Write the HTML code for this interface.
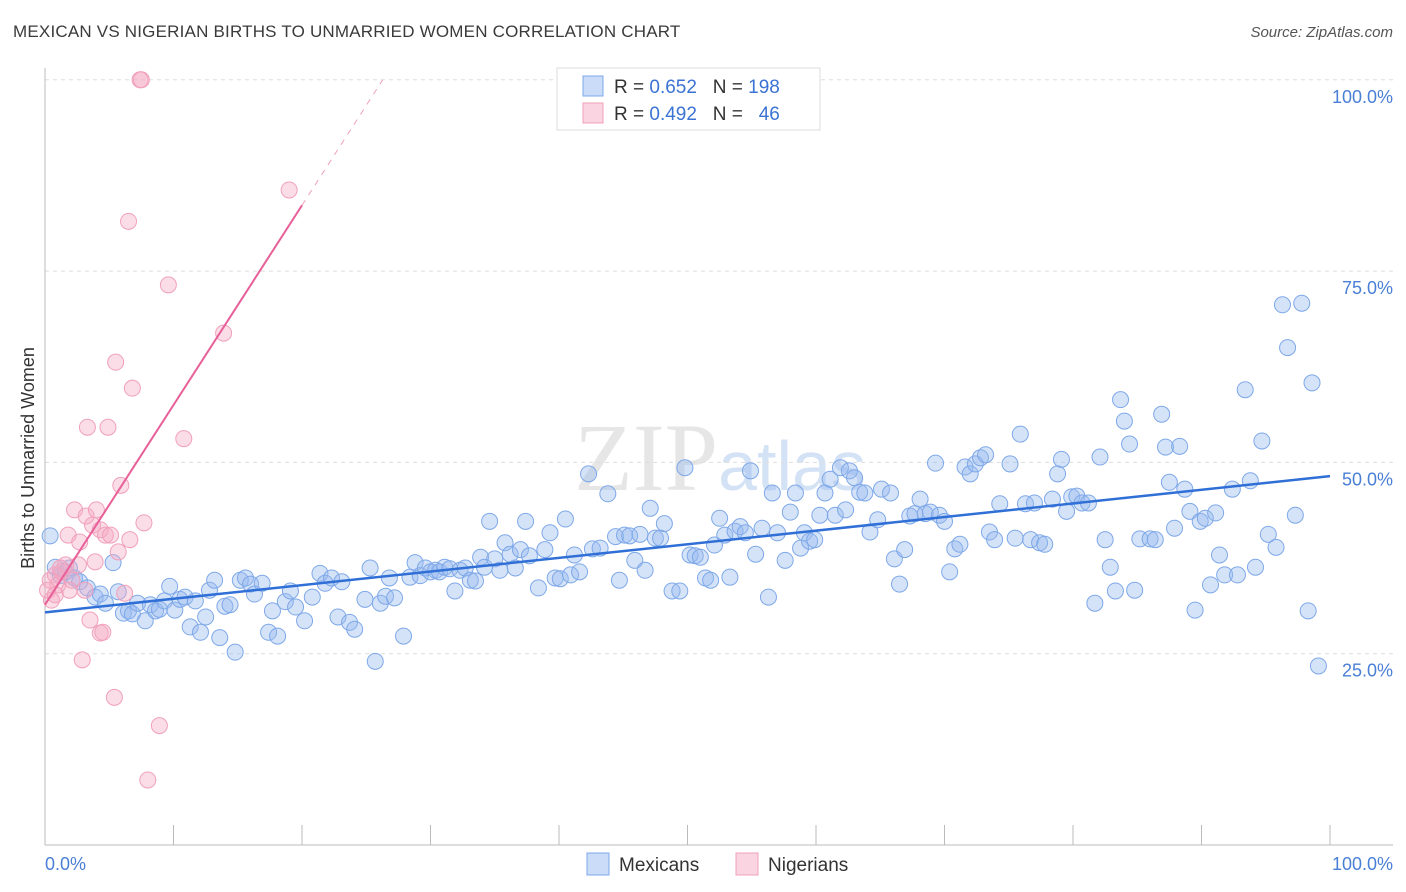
<!DOCTYPE html>
<html><head><meta charset="utf-8">
<style>
body{margin:0;background:#fff;font-family:"Liberation Sans",sans-serif;}
#wrap{position:relative;width:1406px;height:892px;overflow:hidden;}
.title{position:absolute;left:13px;top:22px;font-size:17px;color:#3a3a3a;letter-spacing:0.2px}
.src{position:absolute;right:13px;top:24px;font-size:15px;color:#555;font-style:italic}
</style></head>
<body>
<div id="wrap">
<div class="title">MEXICAN VS NIGERIAN BIRTHS TO UNMARRIED WOMEN CORRELATION CHART</div>
<div class="src">Source: ZipAtlas.com</div>
<svg id="chart" width="1406" height="892" style="position:absolute;left:0;top:0">
<text x="720" y="490" text-anchor="middle" font-size="96" font-family="Liberation Serif" fill="#e6e6e6">ZIP<tspan fill="#d4e2f5" font-family="Liberation Sans" font-size="70">atlas</tspan></text>
</svg>
</div>
<script>
const mexX=[0.4,0.8,1.2,1.6,1.9,2.3,2.7,3.3,3.9,4.3,4.7,5.3,5.7,6.1,6.5,6.8,7.2,7.8,8.2,8.6,8.9,9.3,9.7,10.1,10.5,10.9,11.3,11.7,12.1,12.5,12.8,13.2,13.6,14.0,14.4,14.8,15.2,15.6,16.0,16.3,16.9,17.4,17.7,18.1,18.7,19.1,19.5,20.2,20.8,21.4,21.8,22.3,22.8,23.1,23.7,24.1,24.9,25.3,25.7,26.1,26.5,26.8,27.2,27.9,28.4,28.8,29.2,29.6,30.0,30.4,30.7,31.1,31.5,31.9,32.3,32.7,33.1,33.5,33.9,34.2,34.6,35.0,35.4,35.8,36.2,36.6,37.0,37.4,37.7,38.4,38.9,39.3,39.7,40.1,40.5,40.9,41.2,41.6,42.3,42.6,43.2,43.8,44.4,44.7,45.1,45.5,45.9,46.3,46.7,47.1,47.5,47.9,48.2,48.8,49.4,49.8,50.2,50.6,51.0,51.4,51.8,52.1,52.5,52.9,53.3,53.7,54.1,54.5,54.9,55.3,55.8,56.3,56.6,57.0,57.6,58.0,58.4,58.8,59.1,59.5,59.9,60.3,60.7,61.1,61.5,61.9,62.3,62.6,63.0,63.4,63.8,64.2,64.8,65.1,65.8,66.1,66.5,66.9,67.3,67.7,68.1,68.5,68.9,69.3,69.6,70.0,70.4,70.8,71.2,71.6,72.0,72.4,72.8,73.2,73.5,73.9,74.3,75.1,75.5,75.9,76.3,76.7,77.0,77.4,77.8,78.4,78.8,79.1,79.5,79.9,80.3,80.7,81.2,81.7,82.1,82.5,82.9,83.3,83.7,84.0,84.4,84.8,85.2,86.0,86.4,86.9,87.2,87.5,87.9,88.3,88.7,89.1,89.5,89.9,90.3,90.7,91.1,91.4,91.8,92.4,92.8,93.4,93.8,94.2,94.7,95.2,95.8,96.3,96.7,97.3,97.8,98.3,98.6,99.1];
const mexY=[40.4,36.3,35.2,35.7,36.2,34.9,34.4,33.6,32.4,32.8,31.6,36.9,33.1,30.3,30.6,30.2,31.6,29.3,31.4,30.6,30.8,31.9,33.8,30.7,32.1,32.4,28.5,31.9,27.8,29.8,33.3,34.6,27.1,31.2,31.4,25.2,34.6,34.9,34.1,32.8,34.2,27.8,30.6,27.3,31.8,33.2,31.1,29.3,32.4,35.5,34.2,34.9,29.8,34.4,29.1,28.2,32.1,36.2,24.0,31.6,32.5,34.9,32.3,27.3,35.0,36.9,35.2,36.2,35.7,35.9,35.7,36.3,36.1,33.2,35.9,36.2,34.6,34.5,37.6,36.3,42.3,37.4,35.9,39.5,38.0,36.2,38.6,42.3,37.8,33.6,38.6,40.8,34.9,34.8,42.6,35.3,37.9,35.7,48.5,38.7,38.8,45.9,40.3,34.6,40.5,40.4,37.2,40.6,35.9,44.0,40.1,40.1,42.0,33.2,33.2,49.3,37.9,37.8,37.6,34.9,34.6,39.2,42.7,40.5,35.0,41.0,41.6,40.8,48.9,38.0,41.4,32.4,46.0,40.8,37.2,43.5,46.0,38.8,40.8,39.7,39.9,43.1,46.0,47.8,43.1,49.3,43.8,48.9,48.0,46.1,46.0,40.9,42.5,46.5,46.0,37.4,34.1,38.6,43.0,43.3,45.2,43.3,43.5,49.9,43.1,42.3,35.7,38.7,39.3,49.4,48.5,49.8,50.6,51.0,40.9,39.9,44.6,49.8,40.1,53.7,44.6,39.9,44.7,39.5,39.3,45.2,48.5,50.4,43.6,45.5,45.6,44.7,44.7,31.6,50.7,39.9,36.3,33.2,58.2,55.4,52.4,33.3,40.0,40.0,39.9,56.3,52.0,47.4,41.4,52.1,46.5,43.6,30.7,42.3,42.7,34.0,43.4,37.9,35.3,46.5,35.3,59.5,47.6,36.3,52.8,40.6,38.9,70.6,65.0,43.1,70.8,30.6,60.4,23.4];
const nigX=[0.4,0.5,0.8,1.0,1.3,1.6,1.8,2.1,2.3,2.6,2.7,2.9,3.1,3.2,3.3,3.5,3.7,3.9,4.0,4.3,4.3,4.5,4.7,4.9,5.1,5.4,5.5,5.7,5.9,6.2,6.5,6.6,6.8,7.4,7.5,7.7,8.0,8.9,9.6,10.8,13.9,19.0,1.2,1.9,0.2,0.8];
const nigY=[34.6,32.0,35.3,34.0,35.7,36.6,40.5,34.6,43.8,36.6,39.6,24.2,33.3,43.0,54.6,29.4,41.8,37.0,43.8,41.2,27.7,27.8,40.5,54.6,40.5,19.3,63.1,38.3,47.0,32.9,81.5,39.9,59.7,100,100,42.1,8.5,15.6,73.2,53.1,66.9,85.6,36.2,33.3,33.3,32.7];
const mexTrend=[30.4,48.2];
const nigTrend=[31.4,2.61];
const yTicks=[25,50,75,100];
const yTickLabels=["25.0%","50.0%","75.0%","100.0%"];
const xTicks=[0,10,20,30,40,50,60,70,80,90,100];

const svg=document.getElementById('chart');
const NS='http://www.w3.org/2000/svg';
const X=v=>45+v*12.85;
const Y=v=>845-v*7.652;
function mk(tag,attrs){const e=document.createElementNS(NS,tag);for(const k in attrs)e.setAttribute(k,attrs[k]);svg.appendChild(e);return e;}

yTicks.forEach((t,i)=>{
  const l=mk('line',{x1:45,x2:1393,y1:Y(t),y2:Y(t),stroke:'#ddd','stroke-dasharray':'4,4'});
  
  
  const tx=mk('text',{x:1393,y:Y(t)+23,'text-anchor':'end','font-size':'18',fill:'#4a7fd6'});
  tx.textContent=yTickLabels[i];
  
  
});
let a=mk('line',{x1:45,x2:45,y1:68,y2:845,stroke:'#bbb'});


a=mk('line',{x1:45,x2:1393,y1:845,y2:845,stroke:'#bbb'});


xTicks.forEach(t=>{
  const l=mk('line',{x1:X(t),x2:X(t),y1:825,y2:845,stroke:'#bbb'});
  
  
});
let t=mk('text',{x:45,y:870,'font-size':'18',fill:'#4a7fd6'});t.textContent='0.0%';


t=mk('text',{x:1393,y:870,'text-anchor':'end','font-size':'18',fill:'#4a7fd6'});t.textContent='100.0%';


t=mk('text',{x:34,y:458,'text-anchor':'middle','font-size':'18',fill:'#333',transform:'rotate(-90 34 458)'});t.textContent='Births to Unmarried Women';



mexX.forEach((x,i)=>{
  const c=mk('circle',{cx:X(x),cy:Y(mexY[i]),r:8,fill:'rgba(150,185,240,0.4)',stroke:'#7ea8e8','stroke-width':1});
  
  
});
nigX.forEach((x,i)=>{
  const c=mk('circle',{cx:X(x),cy:Y(nigY[i]),r:8,fill:'rgba(245,170,195,0.4)',stroke:'#f0a0bb','stroke-width':1});
  
  
});
let l=mk('line',{x1:X(0),y1:Y(mexTrend[0]),x2:X(100),y2:Y(mexTrend[1]),stroke:'#2f6fd6','stroke-width':2.5});


const xs=20, xe=(100-nigTrend[0])/nigTrend[1];
l=mk('line',{x1:X(0),y1:Y(nigTrend[0]),x2:X(xs),y2:Y(nigTrend[0]+nigTrend[1]*xs),stroke:'#e8609a','stroke-width':2});


l=mk('line',{x1:X(xs),y1:Y(nigTrend[0]+nigTrend[1]*xs),x2:X(xe),y2:Y(100),stroke:'#f0a0bb','stroke-width':1,'stroke-dasharray':'6,6'});



// top legend
let r=mk('rect',{x:557,y:68,width:263,height:62,fill:'#fff',stroke:'#ddd'});


[['rgba(150,185,240,0.5)','#7ea8e8','0.652','198',86],['rgba(245,170,195,0.5)','#f0a0bb','0.492',' 46',113]].forEach(d=>{
  const s=mk('rect',{x:583,y:d[4]-10,width:20,height:20,fill:d[0],stroke:d[1]});
  
  
  const tx=mk('text',{x:614,y:d[4]+7,'font-size':'19',fill:'#333'});
  tx.innerHTML='R = <tspan fill="#3b73d4">'+d[2]+'</tspan>&#160;&#160;&#160;N = <tspan fill="#3b73d4">'+d[3].replace(' ','&#160;&#160;')+'</tspan>';
  
  
});
// bottom legend
[[587,'rgba(150,185,240,0.5)','#7ea8e8','Mexicans'],[736,'rgba(245,170,195,0.5)','#f0a0bb','Nigerians']].forEach(d=>{
  const s=mk('rect',{x:d[0],y:853,width:22,height:22,fill:d[1],stroke:d[2]});
  
  
  const tx=mk('text',{x:d[0]+32,y:871,'font-size':'19',fill:'#333'});
  tx.textContent=d[3];
  
  
});
</script>
</body></html>
